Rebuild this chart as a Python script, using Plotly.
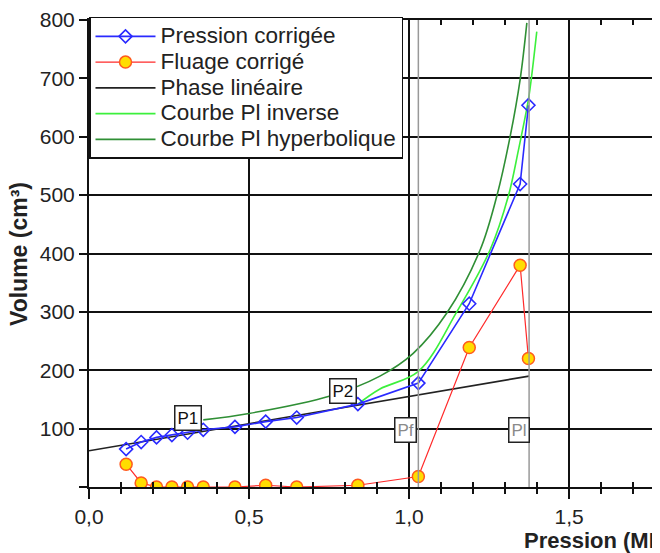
import plotly.graph_objects as go

# ---- data ----
p_press = [0.116, 0.163, 0.211, 0.259, 0.308, 0.357, 0.456, 0.552, 0.649, 0.840, 1.029, 1.188, 1.347, 1.373]
v_press = [65, 77, 85, 89, 93, 98, 103, 112, 119, 142, 178, 314, 519, 654]

p_fluage = [0.116, 0.163, 0.211, 0.259, 0.308, 0.357, 0.456, 0.552, 0.649, 0.840, 1.029, 1.188, 1.347, 1.373]
v_fluage = [39, 7, 0, 0, 0, 0, 0, 3, 0, 3, 18, 239, 380, 220]

p_lin = [0.0, 1.375]
v_lin = [62, 190]

p_inv = [0.840, 0.909, 1.029, 1.149, 1.253, 1.310, 1.342, 1.373, 1.383, 1.399]
v_inv = [142, 168, 198, 300, 406, 498, 578, 664, 704, 780]

p_hyp = [0.357, 0.500, 0.753, 0.909, 1.013, 1.118, 1.222, 1.274, 1.316, 1.347, 1.368]
v_hyp = [115, 126, 156, 190, 229, 298, 406, 498, 601, 698, 795]

pf_value = 1.029
pl_value = 1.375

x_tickvals = [0.0, 0.5, 1.0, 1.5]
x_ticktext = ["0,0", "0,5", "1,0", "1,5"]
y_tickvals = [0, 100, 200, 300, 400, 500, 600, 700, 800]
y_ticktext = ["", "100", "200", "300", "400", "500", "600", "700", "800"]

label_text = ["P1", "P2", "Pf", "Pl"]
label_p = [0.31, 0.794, 0.99, 1.342]
label_v = [118, 164, 98, 98]
label_color = ["#111111", "#111111", "#8a8a8a", "#8a8a8a"]

series_names = ["Pression corrigée", "Fluage corrigé", "Phase linéaire",
                "Courbe Pl inverse", "Courbe Pl hyperbolique"]

FONT = "Liberation Sans, Arial, sans-serif"


def lname(s):
    return '<span style="font-size:22.5px">' + s + '</span>'


fig = go.Figure()

fig.add_trace(go.Scatter(x=p_hyp, y=v_hyp, mode="lines", name=lname(series_names[4]),
                         line=dict(color="#2f8f35", width=1.6, shape="spline"), legendrank=5))
fig.add_trace(go.Scatter(x=p_inv, y=v_inv, mode="lines", name=lname(series_names[3]),
                         line=dict(color="#3cf03c", width=1.6, shape="spline"), legendrank=4))
fig.add_trace(go.Scatter(x=p_lin, y=v_lin, mode="lines", name=lname(series_names[2]),
                         line=dict(color="#222222", width=1.6), legendrank=3))
fig.add_trace(go.Scatter(x=p_fluage, y=v_fluage, mode="lines+markers", name=lname(series_names[1]),
                         line=dict(color="#ff2a2a", width=1.2),
                         marker=dict(symbol="circle", size=12, color="#ffdd00",
                                     line=dict(color="#ff5a1e", width=1.5)), legendrank=2))
fig.add_trace(go.Scatter(x=p_press, y=v_press, mode="lines+markers", name=lname(series_names[0]),
                         line=dict(color="#2a2aff", width=1.6),
                         marker=dict(symbol="diamond-open", size=10, color="#2a2aff",
                                     line=dict(width=1.6)), legendrank=1))

# dummy traces for overlay axes
fig.add_trace(go.Scatter(x=[0], y=[0], xaxis="x2", mode="markers", marker=dict(opacity=0),
                         showlegend=False, hoverinfo="skip"))
fig.add_trace(go.Scatter(x=[0], y=[0], xaxis="x3", mode="markers", marker=dict(opacity=0),
                         showlegend=False, hoverinfo="skip"))

# Pf / Pl vertical lines
for pv in [pf_value, pl_value]:
    fig.add_shape(type="line", x0=pv, x1=pv, y0=0, y1=800, xref="x", yref="y",
                  line=dict(color="#999999", width=1.5), layer="above")

for t, px, vy, c in zip(label_text, label_p, label_v, label_color):
    fig.add_annotation(x=px, y=vy, xref="x", yref="y", text=t, showarrow=False,
                       font=dict(family=FONT, size=17, color=c),
                       bgcolor="white", bordercolor="#222222", borderwidth=1.5, borderpad=2)

# page body has an 8px margin -> compensate so the plot lands at the reference position
xr = [0, 1.809]
fig.update_layout(
    width=660, height=553,
    margin=dict(l=81, r=0, t=12, b=74, autoexpand=False),
    paper_bgcolor="white", plot_bgcolor="white",
    font=dict(family=FONT, size=21, color="#222222"),
    showlegend=True,
    legend=dict(x=0, y=1.0065, xanchor="left", yanchor="top",
                bgcolor="white", bordercolor="#111111", borderwidth=1.5,
                font=dict(family=FONT, size=17.5, color="#222222"),
                itemwidth=60, tracegroupgap=0),
    xaxis=dict(range=xr, tickvals=x_tickvals, ticktext=x_ticktext, automargin=False,
               showgrid=True, gridcolor="#111111", gridwidth=2,
               showline=True, linecolor="#111111", linewidth=2,
               ticks="outside", ticklen=10, tickwidth=2, tickcolor="#111111",
               minor=dict(dtick=0.1, tick0=0, ticks="outside", ticklen=5, tickwidth=2,
                          tickcolor="#111111", showgrid=False),
               zeroline=False, tickfont=dict(size=21)),
    xaxis2=dict(range=xr, overlaying="x", side="top", anchor="y", showgrid=False, automargin=False,
                showline=True, linecolor="#111111", linewidth=2,
                showticklabels=False, ticks="inside", dtick=0.1, tick0=0,
                ticklen=5, tickwidth=2, tickcolor="#111111", zeroline=False),
    xaxis3=dict(range=xr, overlaying="x", side="bottom", anchor="y", showgrid=False, automargin=False,
                showline=False, showticklabels=False, ticks="inside", dtick=0.1, tick0=0,
                ticklen=5, tickwidth=2, tickcolor="#111111", zeroline=False),
    yaxis=dict(range=[0, 800], tickvals=y_tickvals, ticktext=y_ticktext, automargin=False,
               showgrid=True, gridcolor="#111111", gridwidth=2,
               showline=True, linecolor="#111111", linewidth=2,
               ticks="outside", ticklen=8, tickwidth=2, tickcolor="#111111",
               zeroline=False, tickfont=dict(size=21)),
)

fig.add_annotation(xref="paper", yref="paper", x=-0.1218, y=0.5, text="<b>Volume (cm³)</b>",
                   textangle=-90, showarrow=False, xanchor="center", yanchor="middle",
                   font=dict(family=FONT, size=23, color="#222222"))
fig.add_annotation(xref="paper", yref="paper", x=0.747, y=-0.1156, text="<b>Pression (MPa)</b>",
                   showarrow=False, xanchor="left", yanchor="middle",
                   font=dict(family=FONT, size=22, color="#222222"))

fig.write_html("out.html")
